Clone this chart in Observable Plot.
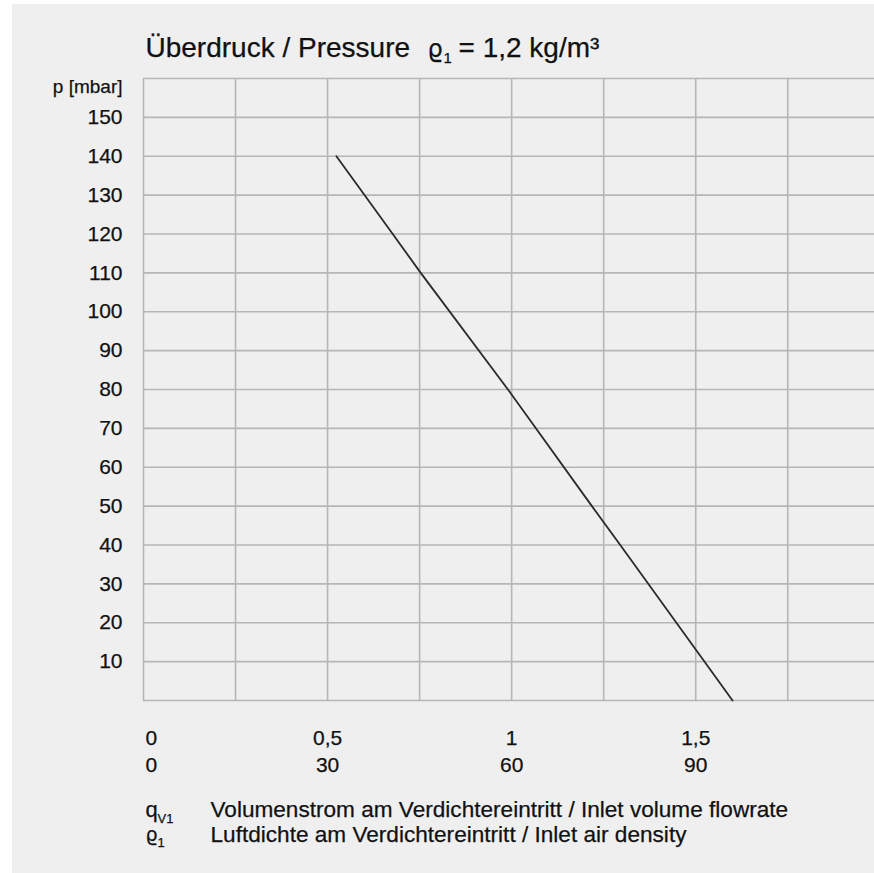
<!DOCTYPE html>
<html>
<head>
<meta charset="utf-8">
<script src="https://cdn.jsdelivr.net/npm/d3@7"></script>
<script src="https://cdn.jsdelivr.net/npm/@observablehq/plot@0.6"></script>
<style>
  html, body { margin: 0; padding: 0; background: #ffffff; }
  #wrap { padding: 4px 0 0 12px; width: 862px; height: 869px; }
  svg { display: block; background: #efefef; }
</style>
</head>
<body>
<div id="wrap"></div>
<script>
// Data
const flow = [0.524, 0.677, 0.753, 0.99, 1.218, 1.295, 1.60];      // q_V1 (upper scale)
const pressure = [140, 120, 110, 80, 50, 40, 0];                   // p [mbar]
const xTickValues = [0, 0.5, 1, 1.5];
const xTickRow1 = ["0", "0,5", "1", "1,5"];
const xTickRow2 = ["0", "30", "60", "90"];
const yTickValues = [10, 20, 30, 40, 50, 60, 70, 80, 90, 100, 110, 120, 130, 140, 150];
const xGrid = [0, 0.25, 0.5, 0.75, 1, 1.25, 1.5, 1.75];
const yGrid = [0, 10, 20, 30, 40, 50, 60, 70, 80, 90, 100, 110, 120, 130, 140, 150, 160];
const title = "Überdruck / Pressure";
const rhoLabel = "ϱ";
const rhoValue = "= 1,2 kg/m³";
const yLabel = "p [mbar]";
const legend1 = "Volumenstrom am Verdichtereintritt / Inlet volume flowrate";
const legend2 = "Luftdichte am Verdichtereintritt / Inlet air density";

const curve = flow.map((x, i) => ({x, p: pressure[i]}));
const ticks = xTickValues.map((x, i) => ({x, a: xTickRow1[i], b: xTickRow2[i]}));

const font = "Liberation Sans, Arial, sans-serif";
const greek = "DejaVu Sans, sans-serif";
const ink = "#111";
const gridColor = "#b6b6b6";
const t = (extra) => Object.assign({textAnchor: "start", lineAnchor: "middle", fill: ink, stroke: ink, strokeWidth: 0.25}, extra);

const chart = Plot.plot({
  width: 862,
  height: 869,
  marginLeft: 131,
  marginRight: 0,
  marginTop: 74,
  marginBottom: 173,
  style: {fontFamily: font, background: "#efefef", color: ink},
  x: {domain: [0, 1.9856], axis: null},
  y: {domain: [0, 160], axis: null},
  marks: [
    Plot.ruleX(xGrid, {stroke: gridColor, strokeWidth: 1.6}),
    Plot.ruleY(yGrid, {stroke: gridColor, strokeWidth: 1.6}),
    Plot.line(curve, {x: "x", y: "p", stroke: "#2a2a2a", strokeWidth: 1.8}),
    Plot.text(yTickValues, t({y: d => d, frameAnchor: "left", dx: -21, textAnchor: "end", fontSize: 21, text: d => String(d)})),
    Plot.text([yLabel], t({frameAnchor: "top-left", dx: -21, dy: 8, textAnchor: "end", fontSize: 19, text: d => d})),
    // x tick labels, two rows
    Plot.text(ticks.slice(0, 1), t({x: "x", frameAnchor: "bottom", dx: 2, dy: 38, fontSize: 21, text: "a"})),
    Plot.text(ticks.slice(1), t({x: "x", frameAnchor: "bottom", dy: 38, textAnchor: "middle", fontSize: 21, text: "a"})),
    Plot.text(ticks.slice(0, 1), t({x: "x", frameAnchor: "bottom", dx: 2, dy: 65, fontSize: 21, text: "b"})),
    Plot.text(ticks.slice(1), t({x: "x", frameAnchor: "bottom", dy: 65, textAnchor: "middle", fontSize: 21, text: "b"})),
    // title
    Plot.text([title], t({frameAnchor: "top-left", dx: 2, dy: -30, fontSize: 28, text: d => d})),
    Plot.text([rhoLabel], t({frameAnchor: "top-left", dx: 284, dy: -29, fontSize: 24, fontFamily: greek, text: d => d})),
    Plot.text(["1"], t({frameAnchor: "top-left", dx: 300, dy: -20, fontSize: 15, text: d => d})),
    Plot.text([rhoValue], t({frameAnchor: "top-left", dx: 315, dy: -30, fontSize: 28, text: d => d})),
    // legend / footnotes
    Plot.text(["q"], t({frameAnchor: "bottom-left", dx: 2, dy: 109, fontSize: 22, text: d => d})),
    Plot.text(["V1"], t({frameAnchor: "bottom-left", dx: 14, dy: 118, fontSize: 13, text: d => d})),
    Plot.text([legend1], t({frameAnchor: "bottom-left", dx: 67, dy: 109, fontSize: 22.6, text: d => d})),
    Plot.text([rhoLabel], t({frameAnchor: "bottom-left", dx: 2, dy: 134, fontSize: 19, fontFamily: greek, text: d => d})),
    Plot.text(["1"], t({frameAnchor: "bottom-left", dx: 14, dy: 142, fontSize: 13, text: d => d})),
    Plot.text([legend2], t({frameAnchor: "bottom-left", dx: 67, dy: 134, fontSize: 22.6, text: d => d}))
  ]
});
document.getElementById("wrap").appendChild(chart);
</script>
</body>
</html>
